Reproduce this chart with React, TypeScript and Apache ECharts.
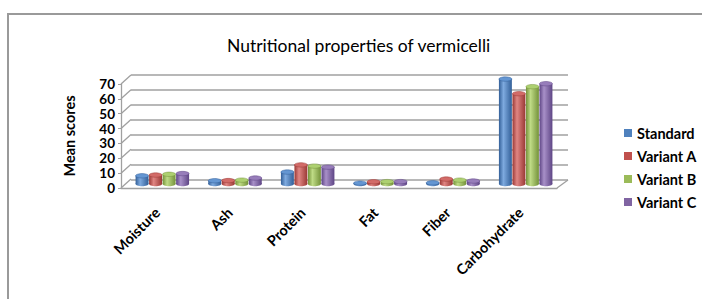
import React, { useEffect, useRef } from "react";
import * as echarts from "echarts";

const categories = ["Moisture", "Ash", "Protein", "Fat", "Fiber", "Carbohydrate"];
const seriesNames = ["Standard", "Variant A", "Variant B", "Variant C"];
const standard = [5.5, 2.2, 8.0, 0.6, 0.8, 70.3];
const variantA = [6.0, 2.3, 12.8, 1.5, 3.3, 60.5];
const variantB = [6.5, 2.6, 12.0, 1.6, 2.6, 65.2];
const variantC = [7.0, 4.0, 11.3, 1.6, 2.0, 67.2];
const yTicks = [0, 10, 20, 30, 40, 50, 60, 70];

const seriesValues = [standard, variantA, variantB, variantC];
const baseColors = ["#4F81BD", "#C0504D", "#9BBB59", "#8064A2"];
const darkColors = ["#325f98", "#9a3835", "#74923a", "#5e4585"];
const lightColors = ["#7eaadf", "#e08683", "#bfdb86", "#a890c8"];
const topColors = ["#6496d2", "#d26b68", "#add070", "#977dba"];

const FONT = "Lato";

export default function App() {
  const ref = useRef<HTMLDivElement>(null);
  useEffect(() => {
    if (!ref.current) return;
    const chart = echarts.init(ref.current, null, { renderer: "svg" });

    const cylSeries = seriesValues.map((vals, s) => ({
      type: "custom",
      name: seriesNames[s],
      xAxisIndex: 2,
      yAxisIndex: 2,
      itemStyle: { color: baseColors[s] },
      clip: false,
      data: vals.map((v, i) => [i, v]),
      renderItem: (params: any, api: any) => {
        const cat = api.value(0);
        const val = api.value(1);
        const base = api.coord([cat, 0]);
        const top = api.coord([cat, val]);
        const band = api.size([1, 0])[0];
        const bw = band * 0.178;
        const gap = band * 0.008;
        const groupW = 4 * bw + 3 * gap;
        const x = base[0] - groupW / 2 + s * (bw + gap);
        const ry = 2.2;
        const grad = new echarts.graphic.LinearGradient(0, 0, 1, 0, [
          { offset: 0, color: darkColors[s] },
          { offset: 0.35, color: lightColors[s] },
          { offset: 1, color: darkColors[s] },
        ]);
        return {
          type: "group",
          children: [
            {
              type: "ellipse",
              shape: { cx: x + bw / 2, cy: base[1], rx: bw / 2, ry },
              style: { fill: grad },
            },
            {
              type: "rect",
              shape: { x, y: top[1], width: bw, height: base[1] - top[1] },
              style: { fill: grad },
            },
            {
              type: "ellipse",
              shape: { cx: x + bw / 2, cy: top[1], rx: bw / 2, ry },
              style: { fill: topColors[s], stroke: darkColors[s], lineWidth: 0.5 },
            },
          ],
        };
      },
    }));

    const wallSeries = {
      type: "custom",
      xAxisIndex: 1,
      yAxisIndex: 1,
      silent: true,
      clip: false,
      legendHoverLink: false,
      data: yTicks.map((t) => [0, t]),
      renderItem: (params: any, api: any) => {
        const y = api.coord([0, api.value(1)])[1];
        const cs = params.coordSys;
        const children: any[] = [
          {
            type: "line",
            shape: { x1: cs.x, y1: y, x2: cs.x + 10, y2: y - 9 },
            style: { stroke: "#a0a0a0", lineWidth: 1.3 },
          },
        ];
        if (api.value(1) === 0) {
          children.push({
            type: "line",
            shape: { x1: cs.x + cs.width, y1: y, x2: cs.x + cs.width + 11, y2: y - 8 },
            style: { stroke: "#a0a0a0", lineWidth: 1.3 },
          });
        }
        return { type: "group", children };
      },
    };

    const option: any = {
      animation: false,
      backgroundColor: "#ffffff",
      title: {
        text: "Nutritional properties of vermicelli",
        left: 222,
        top: 31,
        textStyle: { fontFamily: FONT, fontSize: 17.5, fontWeight: "normal", color: "#000" },
      },
      legend: {
        orient: "vertical",
        left: 619,
        top: 120,
        icon: "rect",
        itemWidth: 8,
        itemHeight: 8,
        itemGap: 7,
        data: seriesNames,
        textStyle: { fontFamily: FONT, fontSize: 14.5, fontWeight: "bold", color: "#000", lineHeight: 16 },
      },
      graphic: [
        {
          type: "rect",
          shape: { x: 8, y: 14, width: 800, height: 400 },
          style: { fill: "none", stroke: "#9a9a9a", lineWidth: 2 },
          silent: true,
        },
      ],
      grid: [
        { left: 131, top: 75, width: 437, height: 105 },
        { left: 121, top: 84, width: 436, height: 104 },
        { left: 126, top: 79.5, width: 436, height: 104.5 },
      ],
      xAxis: [
        { gridIndex: 0, type: "category", data: categories, show: false },
        {
          gridIndex: 1,
          type: "category",
          data: categories,
          axisLine: { lineStyle: { color: "#a0a0a0", width: 1.3 } },
          axisTick: { show: false },
          axisLabel: {
            rotate: 45,
            margin: 22,
            interval: 0,
            fontFamily: FONT,
            fontSize: 14.5,
            fontWeight: "bold",
            color: "#000",
          },
        },
        { gridIndex: 2, type: "category", data: categories, show: false },
      ],
      yAxis: [
        {
          gridIndex: 0,
          type: "value",
          min: 0,
          max: 70,
          interval: 10,
          axisLine: { show: false },
          axisTick: { show: false },
          axisLabel: { show: false },
          splitLine: { lineStyle: { color: "#a0a0a0", width: 1.5 } },
        },
        {
          gridIndex: 1,
          type: "value",
          min: 0,
          max: 70,
          interval: 10,
          name: "Mean scores",
          nameLocation: "middle",
          nameGap: 44,
          nameRotate: 90,
          nameTextStyle: { fontFamily: FONT, fontSize: 14.5, fontWeight: "bold", color: "#000" },
          axisLine: { show: true, lineStyle: { color: "#a0a0a0", width: 1.3 } },
          axisTick: { show: true, length: 3, lineStyle: { color: "#a0a0a0" } },
          axisLabel: {
            margin: 6,
            fontFamily: FONT,
            fontSize: 13.5,
            lineHeight: 13,
            fontWeight: "bold",
            color: "#000",
          },
          splitLine: { show: false },
        },
        {
          gridIndex: 2,
          type: "value",
          min: 0,
          max: 70,
          interval: 10,
          show: false,
          splitLine: { show: false },
        },
      ],
      series: [wallSeries, ...cylSeries],
    };
    chart.setOption(option);
    return () => chart.dispose();
  }, []);

  return (
    <div
      ref={ref}
      style={{ position: "fixed", left: 0, top: 0, width: 702, height: 299 }}
    />
  );
}
